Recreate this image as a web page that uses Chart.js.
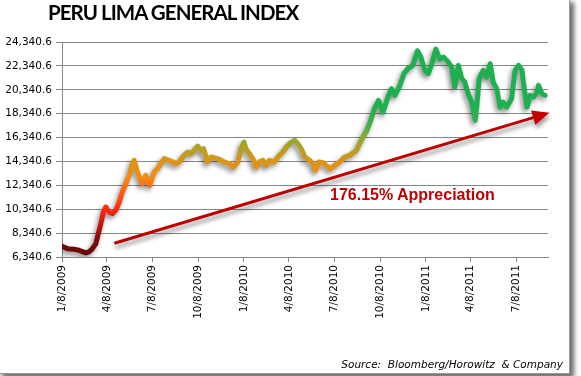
<!DOCTYPE html>
<html>
<head>
<meta charset="utf-8">
<script src="https://cdn.jsdelivr.net/npm/chart.js@4.4.0/dist/chart.umd.min.js"></script>
<style>
  html, body { margin: 0; padding: 0; background: #fff; width: 581px; height: 376px; overflow: hidden; }
  #frame { position: absolute; left: -2px; top: -2px; width: 570px; height: 374px; border: 1px solid #9a9a9a;
           box-shadow: 4px 4px 5px rgba(0,0,0,0.6); background: #fff; }
  #chart { position: absolute; left: 0; top: 0; }
  #title { position: absolute; left: 48px; top: 2px; font: bold 20.5px Lato; letter-spacing: -0.95px; color: #000; line-height: 1; white-space: nowrap; }
  #note { position: absolute; left: 330px; top: 187px; font: bold 16px "Liberation Sans"; color: #c00000; line-height: 1; white-space: nowrap; }
  #source { position: absolute; right: 18px; top: 359px; font: italic 10.5px "DejaVu Sans"; color: #000; line-height: 1; white-space: nowrap; }
</style>
</head>
<body>
<div id="frame"></div>
<canvas id="chart" width="581" height="376"></canvas>
<div id="title">PERU LIMA GENERAL INDEX</div>
<div id="note">176.15% Appreciation</div>
<div id="source">Source:&nbsp; Bloomberg/Horowitz&nbsp; &amp; Company</div>
<script>
// days since 1/8/2009
const days = [
  0, 11, 24, 34, 48, 54, 61, 68, 72, 78,
  83, 88, 95, 101, 108, 115, 121, 128, 135, 141,
  145, 151, 161, 168, 176, 185, 192, 198, 205, 215,
  229, 235, 242, 252, 259, 265, 272, 279, 284, 292,
  299, 312, 326, 336, 344, 353, 359, 365, 369, 376,
  383, 390, 396, 403, 410, 416, 426, 433, 443, 450,
  460, 467, 473, 480, 487, 497, 503, 509, 515, 523,
  530, 538, 547, 557, 567, 577, 591, 597, 604, 611,
  617, 627, 635, 644, 654, 661, 668, 678, 686, 694,
  704, 713, 720, 728, 735, 743, 750, 758, 765, 775,
  782, 788, 795, 802, 808, 815, 822, 829, 832, 837,
  845, 852, 859, 865, 872, 879, 885, 892, 902, 909,
  916, 923, 926, 933, 939, 946, 953, 956, 963, 969
];
const indexValues = [
  7240, 7040, 6990, 6900, 6680, 6760, 7040, 7460, 8150, 9140,
  10100, 10530, 10100, 9970, 10250, 10950, 11780, 12480, 13180, 14160,
  14430, 13500, 12480, 13180, 12340, 13450, 13740, 14160, 14580, 14430,
  14160, 14290, 14710, 15130, 14990, 15270, 15630, 15270, 15410, 14290,
  14710, 14580, 14290, 14160, 13870, 14290, 15410, 15960, 15410, 14990,
  14580, 13870, 14290, 14430, 14010, 14430, 14290, 14710, 15130, 15550,
  15960, 16110, 15830, 15410, 14710, 14430, 14160, 13600, 14290, 14250,
  14010, 13740, 14010, 14290, 14710, 14850, 15270, 15830, 16400, 16900,
  17500, 18760, 19450, 18470, 19730, 20430, 19870, 20710, 21690, 22110,
  22380, 23600, 23080, 21960, 21690, 22660, 23750, 22900, 23080, 22660,
  22240, 20570, 22380, 21270, 20990, 19990, 19310, 17780, 18890, 21270,
  21960, 21400, 22520, 20990, 20430, 18890, 19310, 18890, 19590, 21960,
  22380, 21960, 20850, 18890, 19870, 19730, 20150, 20710, 20000, 19870
];
const tickDays = [0, 90, 181, 273, 365, 455, 546, 638, 730, 820, 911];
const tickLabels = ['1/8/2009', '4/8/2009', '7/8/2009', '10/8/2009', '1/8/2010', '4/8/2010',
                    '7/8/2010', '10/8/2010', '1/8/2011', '4/8/2011', '7/8/2011'];
const yTicks = [6340.6, 8340.6, 10340.6, 12340.6, 14340.6, 16340.6, 18340.6, 20340.6, 22340.6, 24340.6];
// trend arrow, in [day, index value]
const arrowStart = [105, 7490];
const arrowEnd = [978, 18420];

// line colour follows the index level
const colorStops = [
  [6500, '#5e0808'], [8000, '#8a0a0a'], [9500, '#e0180c'], [10500, '#ff3010'],
  [12000, '#ff6414'], [13000, '#f58a14'], [14300, '#dc9416'], [15500, '#b2a022'],
  [16500, '#84ac30'], [17500, '#3cb046'], [19000, '#1eb050']
];

function lineGradient(context) {
  const chart = context.chart;
  if (!chart.chartArea) return '#1eb050';
  const y = chart.scales.y;
  const first = colorStops[0][0], last = colorStops[colorStops.length - 1][0];
  const g = chart.ctx.createLinearGradient(0, y.getPixelForValue(first), 0, y.getPixelForValue(last));
  colorStops.forEach(s => g.addColorStop((s[0] - first) / (last - first), s[1]));
  return g;
}

const lineShadow = {
  id: 'lineShadow',
  beforeDatasetsDraw(chart) {
    const c = chart.ctx;
    c.save();
    c.shadowColor = 'rgba(0,0,0,0.45)';
    c.shadowBlur = 5;
    c.shadowOffsetX = -2;
    c.shadowOffsetY = 3;
  },
  afterDatasetsDraw(chart) {
    chart.ctx.restore();
  }
};

const trendArrow = {
  id: 'trendArrow',
  afterDatasetsDraw(chart) {
    const c = chart.ctx, xs = chart.scales.x, ys = chart.scales.y;
    const x1 = xs.getPixelForValue(arrowStart[0]), y1 = ys.getPixelForValue(arrowStart[1]);
    const x2 = xs.getPixelForValue(arrowEnd[0]), y2 = ys.getPixelForValue(arrowEnd[1]);
    const a = Math.atan2(y2 - y1, x2 - x1);
    const headLen = 17, headW = 7.5;
    const bx = x2 - headLen * Math.cos(a), by = y2 - headLen * Math.sin(a);
    c.save();
    c.shadowColor = 'rgba(0,0,0,0.4)';
    c.shadowBlur = 4;
    c.shadowOffsetX = 1;
    c.shadowOffsetY = 4;
    c.strokeStyle = '#c00000';
    c.fillStyle = '#c00000';
    c.lineWidth = 3;
    c.beginPath();
    c.moveTo(x1, y1);
    c.lineTo(bx, by);
    c.stroke();
    c.beginPath();
    c.moveTo(x2, y2);
    c.lineTo(bx + headW * Math.sin(a), by - headW * Math.cos(a));
    c.lineTo(bx - headW * Math.sin(a), by + headW * Math.cos(a));
    c.closePath();
    c.fill();
    c.restore();
  }
};

const tickFont = { family: 'DejaVu Sans', size: 10.5 };

new Chart(document.getElementById('chart'), {
  type: 'line',
  data: {
    datasets: [{
      data: days.map((d, i) => ({ x: d, y: indexValues[i] })),
      borderColor: lineGradient,
      borderWidth: 5,
      borderJoinStyle: 'round',
      borderCapStyle: 'round',
      pointRadius: 0,
      tension: 0,
      fill: false
    }]
  },
  options: {
    responsive: false,
    animation: false,
    layout: { padding: { top: 42, right: 33, bottom: 0, left: 0 } },
    plugins: { legend: { display: false }, tooltip: { enabled: false } },
    scales: {
      x: {
        type: 'linear',
        min: 0,
        max: 975,
        afterFit: s => { s.height = 119; },
        afterBuildTicks: s => { s.ticks = tickDays.map(v => ({ value: v })); },
        grid: { drawOnChartArea: false, drawTicks: true, tickLength: 5, color: '#868686' },
        border: { color: '#868686' },
        ticks: {
          autoSkip: false, minRotation: 90, maxRotation: 90, padding: 3,
          color: '#000', font: tickFont,
          callback: (v, i) => tickLabels[i]
        }
      },
      y: {
        min: yTicks[0],
        max: yTicks[yTicks.length - 1],
        afterFit: s => { s.width = 62; },
        afterBuildTicks: s => { s.ticks = yTicks.map(v => ({ value: v })); },
        grid: { color: '#868686', tickLength: 6 },
        border: { color: '#868686' },
        ticks: {
          padding: 4, color: '#000', font: tickFont,
          callback: v => v.toLocaleString('en-US', { minimumFractionDigits: 1, maximumFractionDigits: 1 })
        }
      }
    }
  },
  plugins: [lineShadow, trendArrow]
});
</script>
</body>
</html>
